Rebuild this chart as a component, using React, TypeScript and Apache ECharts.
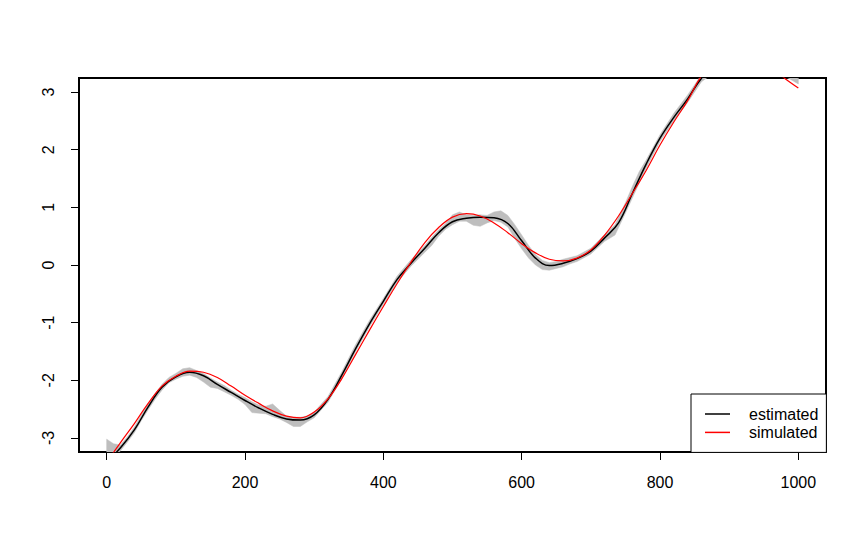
import React, { useEffect, useRef } from "react";
import * as echarts from "echarts";

// x positions where the curves were read
const xValues = [
  0, 20, 40, 60, 80, 100, 120, 140, 160, 180, 200, 220, 240, 260, 280, 300, 320, 340, 360, 380,
  400, 420, 440, 460, 480, 500, 520, 540, 560, 580, 600, 620, 640, 660, 680, 700, 720, 740, 760, 780,
  800, 820, 840, 860, 880, 900, 920, 940, 960, 980, 1000,
];

const estimated = [
  -3.42, -3.17, -2.86, -2.46, -2.12, -1.94, -1.86, -1.92, -2.07, -2.21, -2.35, -2.48, -2.59, -2.67, -2.69, -2.6, -2.33, -1.91, -1.45, -1.02,
  -0.63, -0.25, 0.03, 0.29, 0.56, 0.75, 0.81, 0.83, 0.82, 0.72, 0.42, 0.12, -0.01, 0.03, 0.11, 0.24, 0.47, 0.73, 1.24, 1.75,
  2.2, 2.56, 2.88, 3.24, 3.47, 3.6, 3.64, 3.6, 3.5, 3.38, 3.25,
];

const simulated = [
  -3.42, -3.08, -2.75, -2.4, -2.1, -1.93, -1.84, -1.86, -1.95, -2.1, -2.26, -2.4, -2.53, -2.62, -2.65, -2.55, -2.32, -1.97, -1.55, -1.13,
  -0.72, -0.32, 0.05, 0.39, 0.65, 0.83, 0.89, 0.85, 0.73, 0.56, 0.37, 0.21, 0.1, 0.07, 0.12, 0.26, 0.52, 0.85, 1.24, 1.64,
  2.08, 2.48, 2.85, 3.28, 3.52, 3.63, 3.64, 3.57, 3.43, 3.24, 3.07,
];

// grey band (lower / upper edge)
const bandX = [
  0, 10, 20, 30, 40, 50, 60, 70, 80, 90, 100, 110, 120, 130, 140, 150, 160, 170, 180, 190,
  200, 210, 220, 230, 240, 250, 260, 270, 280, 290, 300, 320, 340, 360, 380, 400, 420, 440, 460, 470,
  480, 490, 500, 510, 520, 530, 540, 550, 560, 570, 580, 590, 600, 610, 620, 630, 640, 650, 660, 670,
  680, 700, 720, 735, 750, 760, 770, 780, 800, 820, 840, 860, 900, 950, 980, 1000,
];
const bandLower = [
  -3.5, -3.36, -3.22, -3.07, -2.91, -2.7, -2.51, -2.33, -2.17, -2.04, -1.98, -1.93, -1.91, -1.95, -2.03, -2.12, -2.14, -2.2, -2.26, -2.33,
  -2.42, -2.56, -2.57, -2.58, -2.63, -2.67, -2.73, -2.8, -2.8, -2.72, -2.65, -2.38, -1.97, -1.5, -1.07, -0.68, -0.3, -0.02, 0.22, 0.34,
  0.5, 0.62, 0.7, 0.76, 0.76, 0.69, 0.67, 0.73, 0.77, 0.74, 0.66, 0.46, 0.28, 0.12, 0.0, -0.08, -0.09, -0.06, -0.03, 0.02,
  0.06, 0.19, 0.41, 0.52, 0.9, 1.16, 1.42, 1.68, 2.14, 2.5, 2.82, 3.18, 3.52, 3.48, 3.28, 3.14,
];
const bandUpper = [
  -3.02, -3.1, -3.12, -2.98, -2.81, -2.6, -2.4, -2.23, -2.07, -1.95, -1.88, -1.8, -1.78, -1.83, -1.88, -1.96, -2.03, -2.09, -2.17, -2.24,
  -2.3, -2.37, -2.43, -2.45, -2.41, -2.52, -2.62, -2.64, -2.64, -2.62, -2.55, -2.28, -1.85, -1.38, -0.96, -0.58, -0.19, 0.09, 0.34, 0.48,
  0.61, 0.72, 0.87, 0.92, 0.87, 0.86, 0.87, 0.86, 0.92, 0.94, 0.86, 0.7, 0.52, 0.34, 0.18, 0.08, 0.04, 0.06, 0.1, 0.13,
  0.16, 0.29, 0.53, 0.7, 1.08, 1.36, 1.62, 1.82, 2.26, 2.63, 2.95, 3.3, 3.66, 3.62, 3.44, 3.32,
];

const xTicks = [0, 200, 400, 600, 800, 1000];
const yTicks = [-3, -2, -1, 0, 1, 2, 3];

export default function App() {
  const ref = useRef<HTMLDivElement>(null);

  useEffect(() => {
    const chart = echarts.init(ref.current!, null, { renderer: "svg" });
    const pair = (xs: number[], ys: number[]) => xs.map((x, i) => [x, ys[i]]);

    chart.setOption({
      animation: false,
      backgroundColor: "#ffffff",
      textStyle: { fontFamily: "'Liberation Sans', Arial, sans-serif" },
      grid: {
        left: 79,
        top: 78,
        width: 747,
        height: 374,
        show: true,
        borderColor: "#000000",
        borderWidth: 2,
        backgroundColor: "transparent",
      },
      xAxis: {
        type: "value",
        min: -40,
        max: 1040,
        axisLine: { show: false, onZero: false },
        splitLine: { show: false },
        axisTick: { show: true, length: 8, customValues: xTicks, lineStyle: { color: "#000", width: 1 } },
        axisLabel: {
          customValues: xTicks,
          margin: 22,
          fontSize: 16,
          color: "#000",
          formatter: (v: number) => String(v),
        },
      },
      yAxis: {
        type: "value",
        min: -3.243,
        max: 3.243,
        axisLine: { show: false, onZero: false },
        splitLine: { show: false },
        axisTick: { show: true, length: 8, customValues: yTicks, lineStyle: { color: "#000", width: 1 } },
        axisLabel: {
          customValues: yTicks,
          rotate: 90,
          margin: 23,
          fontSize: 16,
          color: "#000",
          formatter: (v: number) => String(v),
        },
      },
      legend: {
        orient: "vertical",
        left: 691,
        top: 394,
        data: ["estimated", "simulated"],
        icon: "rect",
        borderColor: "#000",
        borderWidth: 1,
        borderRadius: 0,
        backgroundColor: "#fff",
        padding: [12, 8, 12, 14],
        itemWidth: 25,
        itemHeight: 1.5,
        itemGap: 2.4,
        textStyle: { fontSize: 16, color: "#000", padding: [0, 0, 0, 14] },
      },
      series: [
        {
          type: "custom",
          name: "band",
          clip: true,
          silent: true,
          z: 1,
          data: [[0, 0]],
          renderItem: (params: any, api: any) => {
            if (params.dataIndex !== 0) return null;
            const up = bandX.map((x, i) => api.coord([x, bandUpper[i]]));
            const lo = bandX.map((x, i) => api.coord([x, bandLower[i]])).reverse();
            return {
              type: "polygon",
              shape: { points: up.concat(lo) },
              style: { fill: "#BEBEBE", stroke: "#BEBEBE", lineWidth: 0.5 },
            };
          },
        },
        {
          type: "line",
          name: "estimated",
          data: pair(xValues, estimated),
          showSymbol: false,
          symbol: "none",
          smooth: 0.4,
          z: 2,
          lineStyle: { color: "#000", width: 1.5 },
          itemStyle: { color: "#000" },
        },
        {
          type: "line",
          name: "simulated",
          data: pair(xValues, simulated),
          showSymbol: false,
          symbol: "none",
          smooth: 0.4,
          z: 3,
          lineStyle: { color: "#ff0000", width: 1.2 },
          itemStyle: { color: "#ff0000" },
        },
      ],
    });

    return () => chart.dispose();
  }, []);

  return (
    <div
      ref={ref}
      style={{ position: "fixed", left: 0, top: 0, width: 866, height: 550, background: "#fff" }}
    />
  );
}
